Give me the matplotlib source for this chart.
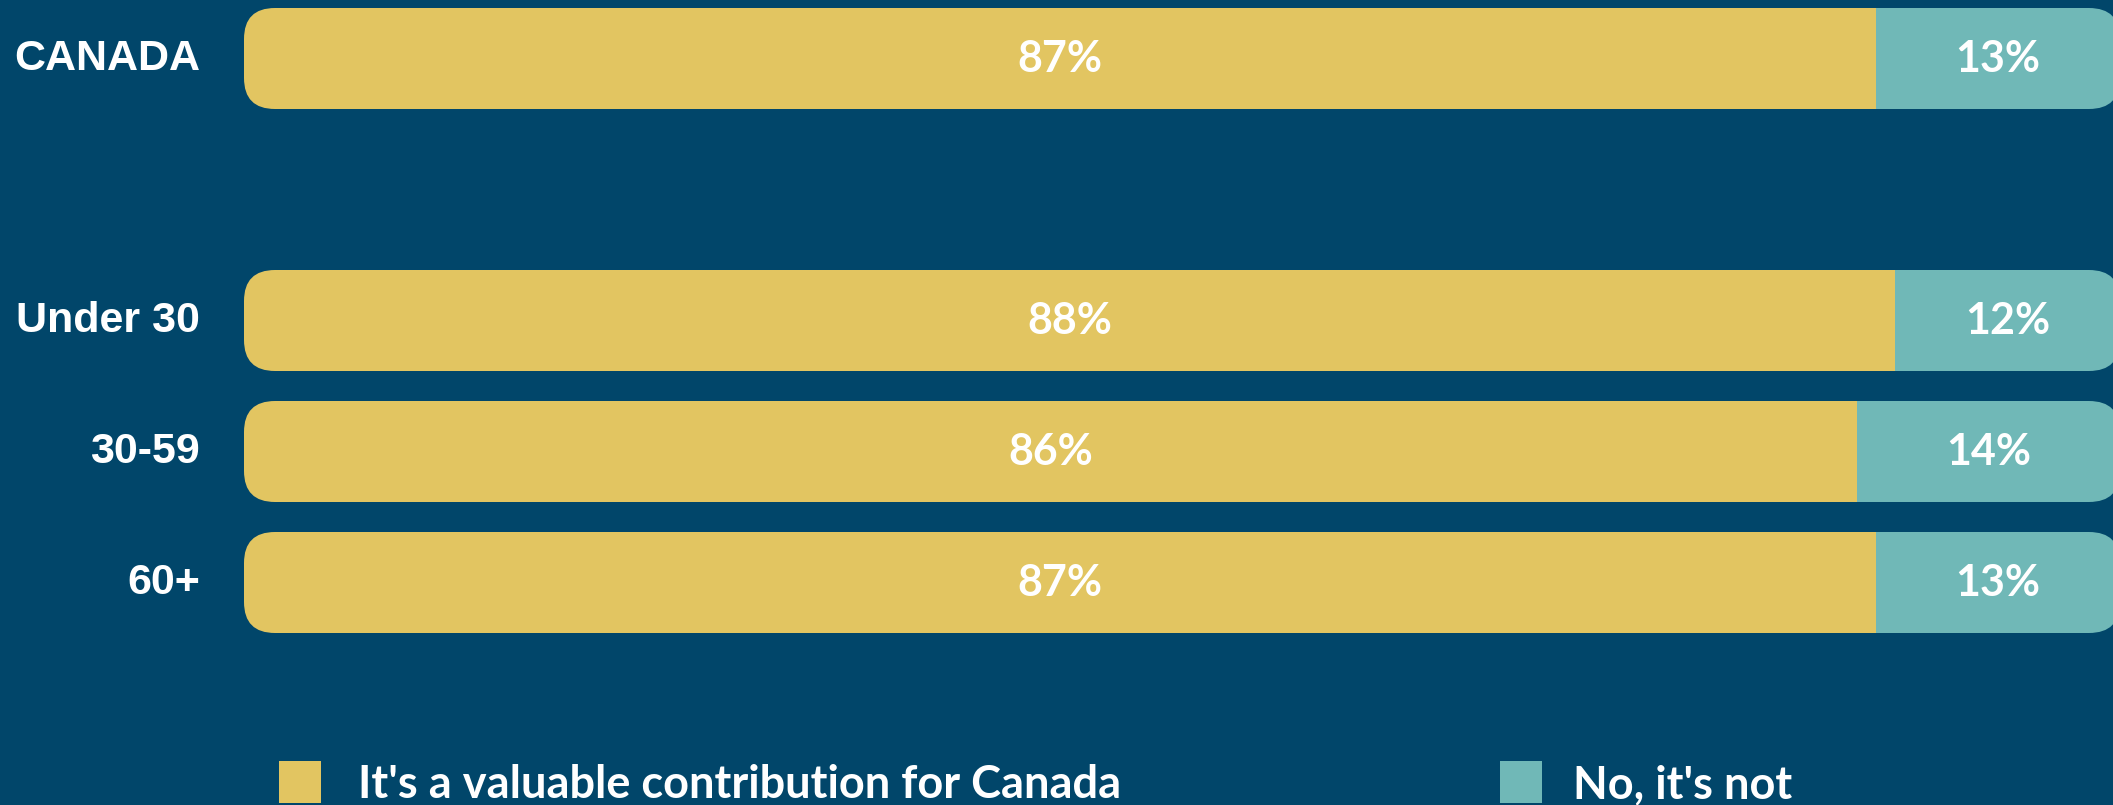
import matplotlib
matplotlib.use("Agg")
import matplotlib.pyplot as plt
from matplotlib.patches import FancyBboxPatch, Rectangle

# data
groups = ["CANADA", "Under 30", "30-59", "60+"]
positions = [0, 2, 3, 4]
valuable = [87, 88, 86, 87]
not_valuable = [13, 12, 14, 13]
series_names = ["It's a valuable contribution for Canada", "No, it's not"]

BG = "#01466A"
YELLOW = "#E2C561"
TEAL = "#70B8B7"

W, H, DPI = 2113, 805, 100
fig = plt.figure(figsize=(W / DPI, H / DPI), dpi=DPI, facecolor=BG)
ax = fig.add_axes([0, 0, 1, 1])
ax.set_facecolor(BG)

# pixel layout: bars run from x=244px to just past the right edge; row pitch 131px
x0_px, x1_px, row_px, top_px = 244, 2120, 131, 58.5
px_x = (x1_px - x0_px) / 100
ax.set_xlim(-x0_px / px_x, (W - x0_px) / px_x)
ax.set_ylim((H - top_px) / row_px, -top_px / row_px)
ax.axis("off")

bar_h = 101 / row_px
r_px = 31

for pos, a, b in zip(positions, valuable, not_valuable):
    clip = FancyBboxPatch((0, pos - bar_h / 2), a + b, bar_h,
                          boxstyle=f"round,pad=0,rounding_size={r_px / px_x}",
                          mutation_aspect=px_x / row_px,
                          facecolor="none", edgecolor="none", transform=ax.transData)
    ax.add_patch(clip)
    bars = ax.barh([pos], [a], height=bar_h, color=YELLOW, left=0)
    bars2 = ax.barh([pos], [b], height=bar_h, color=TEAL, left=a)
    for p in list(bars) + list(bars2):
        p.set_clip_path(clip)
    ax.text(a / 2, pos, f"{a}%", color="white", ha="center", va="center",
            family="Lato", weight="bold", size=31)
    ax.text(a + b / 2, pos, f"{b}%", color="white", ha="center", va="center",
            family="Lato", weight="bold", size=31)

for pos, g in zip(positions, groups):
    ax.text(-44 / px_x, pos, g, color="white", ha="right", va="center",
            family="Liberation Sans", weight="bold", size=31)

# legend
leg_x = [279, 1500]
text_x = [358, 1573]
for x, tx, c, name in zip(leg_x, text_x, [YELLOW, TEAL], series_names):
    fig.patches.append(Rectangle((x / W, 2 / H), 42 / W, 42 / H, transform=fig.transFigure,
                                 facecolor=c, edgecolor="none"))
    fig.text(tx / W, 7 / H, name, color="white", ha="left", va="baseline",
             family="Lato", weight="bold", size=32.5)

fig.savefig("out.png", dpi=DPI, facecolor=BG)
